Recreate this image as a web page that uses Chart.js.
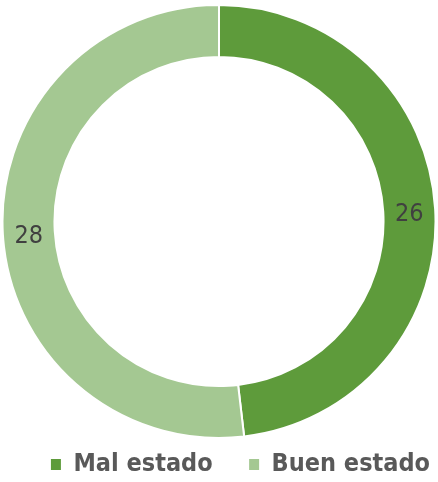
<html lang="es">
<head>
    <meta charset="UTF-8">
    <title>Estado</title>
    <script src="https://cdn.jsdelivr.net/npm/chart.js"></script>
    <style>
        html, body {
            margin: 0;
            padding: 0;
            background: #ffffff;
        }
        .wrap {
            width: 438px;
            height: 482px;
        }
    </style>
</head>
<body>
    <div class="wrap"><canvas id="estadoChart"></canvas></div>
    <script>
        const categories = ["Mal estado", "Buen estado"];
        const values = [26, 28];
        const colors = ["#5e9b3b", "#a4c892"];

        // numbers on the ring, drawn at each arc's centre point
        const ringLabels = {
            id: "ringLabels",
            afterDatasetsDraw(chart) {
                const ctx = chart.ctx;
                const meta = chart.getDatasetMeta(0);
                ctx.save();
                ctx.font = "25px 'DejaVu Sans Condensed', 'DejaVu Sans', sans-serif";
                ctx.fillStyle = "#404040";
                ctx.textAlign = "center";
                ctx.textBaseline = "middle";
                meta.data.forEach((arc, i) => {
                    const p = arc.getCenterPoint();
                    ctx.fillText(String(values[i]), p.x, p.y + 4);
                });
                ctx.restore();
            }
        };

        new Chart(document.getElementById("estadoChart"), {
            type: "doughnut",
            data: {
                labels: categories,
                datasets: [{
                    data: values,
                    backgroundColor: colors,
                    borderColor: "#ffffff",
                    borderWidth: 2
                }]
            },
            options: {
                responsive: true,
                maintainAspectRatio: false,
                animation: false,
                cutout: "76%",
                layout: { padding: { top: 4, left: -5, right: -5, bottom: -5 } },
                plugins: {
                    tooltip: { enabled: false },
                    legend: {
                        position: "bottom",
                        align: "end",
                        labels: {
                            boxWidth: 10,
                            boxHeight: 11,
                            padding: 13,
                            color: "#595959",
                            font: { family: "'DejaVu Sans Condensed', 'DejaVu Sans', sans-serif", size: 25, weight: "bold" },
                            generateLabels(chart) {
                                const items = Chart.overrides.doughnut.plugins.legend.labels.generateLabels(chart);
                                items.forEach(it => { it.lineWidth = 0; });
                                // extra gap after the first entry
                                items[0].text = items[0].text + "   ";
                                return items;
                            }
                        }
                    }
                }
            },
            plugins: [ringLabels]
        });
    </script>
</body>
</html>
